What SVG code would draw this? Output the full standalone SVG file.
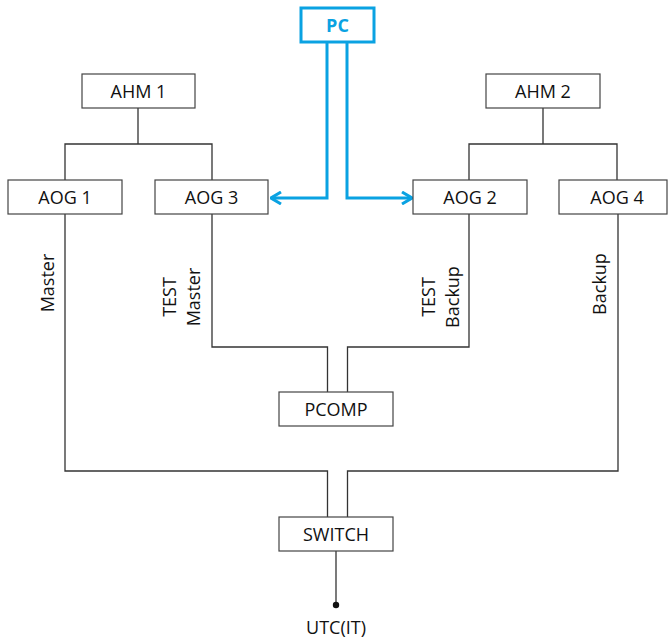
<svg xmlns="http://www.w3.org/2000/svg" width="668" height="642" viewBox="0 0 668 642">
<defs>
<style>
.box{fill:#fff;stroke:#444;stroke-width:1.2}
.t{font-family:"Open Sans","Liberation Sans",sans-serif;font-size:18px;fill:#111;text-anchor:middle}
.w{fill:none;stroke:#333;stroke-width:1.3}
.b{fill:none;stroke:#0AA2E2;stroke-width:3}
</style>
<marker id="ah" viewBox="0 0 12 14" refX="11" refY="7" markerWidth="12" markerHeight="14" markerUnits="userSpaceOnUse" orient="auto">
<path d="M1,1 L11,7 L1,13" fill="none" stroke="#0AA2E2" stroke-width="3"/>
</marker>
</defs>
<rect width="668" height="642" fill="#fff"/>
<g id="connectors">
<path class="w" d="M138,108 V144 M65,180 V144 H212 V180"/>
<path class="w" d="M543,108 V144 M469,180 V144 H617 V180"/>
<path class="w" d="M212,214 V347 H327.5 V392"/>
<path class="w" d="M469,214 V347 H347.5 V392"/>
<path class="w" d="M65,214 V471 H327.5 V517"/>
<path class="w" d="M618,214 V471 H347.5 V517"/>
<path class="w" d="M336,551 V605"/>
<circle cx="336" cy="605" r="3.2" fill="#111"/>
<path class="b" d="M327,43 V198 H271" marker-end="url(#ah)"/>
<path class="b" d="M347,43 V198 H412" marker-end="url(#ah)"/>
</g>
<g id="pc"><rect x="301" y="8" width="73" height="34" fill="#fff" stroke="#0AA2E2" stroke-width="3"/><text x="337.5" y="31.5" class="t" style="fill:#0AA2E2;font-weight:bold">PC</text></g>
<g id="ahm1"><rect class="box" x="82" y="74" width="113" height="34"/><text class="t" x="138.5" y="97.5">AHM 1</text></g>
<g id="ahm2"><rect class="box" x="486" y="74" width="114" height="34"/><text class="t" x="543" y="97.5">AHM 2</text></g>
<g id="aog1"><rect class="box" x="8" y="180" width="114" height="34"/><text class="t" x="65" y="203.5">AOG 1</text></g>
<g id="aog3"><rect class="box" x="155" y="180" width="113" height="34"/><text class="t" x="211.5" y="203.5">AOG 3</text></g>
<g id="aog2"><rect class="box" x="413" y="180" width="114" height="34"/><text class="t" x="470" y="203.5">AOG 2</text></g>
<g id="aog4"><rect class="box" x="559" y="180" width="108" height="34"/><text class="t" x="617" y="203.5">AOG 4</text></g>
<g id="pcomp"><rect class="box" x="279" y="392" width="114" height="34"/><text class="t" x="336" y="415.5">PCOMP</text></g>
<g id="switch"><rect class="box" x="279" y="517" width="114" height="34"/><text class="t" x="336" y="540.5">SWITCH</text></g>
<g id="labels">
<text class="t" transform="translate(54,283) rotate(-90)">Master</text>
<text class="t" transform="translate(176,297) rotate(-90)">TEST</text>
<text class="t" transform="translate(200,297) rotate(-90)">Master</text>
<text class="t" transform="translate(435,297) rotate(-90)">TEST</text>
<text class="t" transform="translate(459,297) rotate(-90)">Backup</text>
<text class="t" transform="translate(606,284) rotate(-90)">Backup</text>
<text class="t" x="336" y="634">UTC(IT)</text>
</g>
</svg>
